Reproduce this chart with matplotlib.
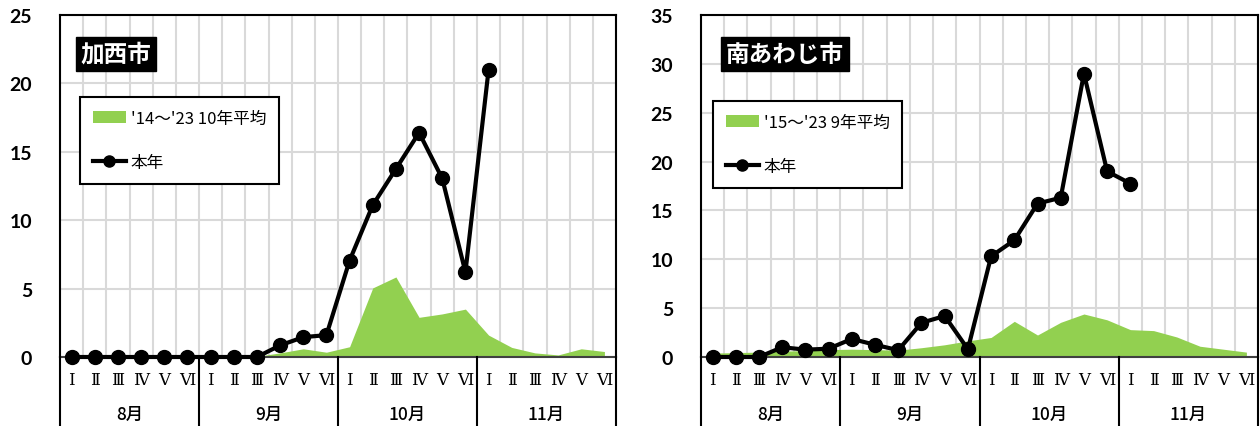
import numpy as np
import matplotlib
matplotlib.use("Agg")
import matplotlib.pyplot as plt
from matplotlib.patches import Patch
from matplotlib.lines import Line2D

plt.rcParams['font.family'] = ['Noto Sans CJK JP', 'DejaVu Sans']

# ---- data ----
weeks = ['Ⅰ', 'Ⅱ', 'Ⅲ', 'Ⅳ', 'Ⅴ', 'Ⅵ']
months = ['8月', '9月', '10月', '11月']

kasai_title = '加西市'
kasai_avg_label = "'14～'23 10年平均"
kasai_avg = [0.05, 0.05, 0.05, 0.05, 0.05, 0.05,
             0.05, 0.05, 0.05, 0.3, 0.6, 0.35,
             0.75, 5.05, 5.85, 2.9, 3.15, 3.5,
             1.6, 0.7, 0.3, 0.15, 0.6, 0.4]
kasai_now = [0, 0, 0, 0, 0, 0,
             0, 0, 0, 0.85, 1.45, 1.6,
             7.05, 11.1, 13.75, 16.4, 13.05, 6.2,
             21.0]
kasai_yticks = [0, 5, 10, 15, 20, 25]

awaji_title = '南あわじ市'
awaji_avg_label = "'15～'23 9年平均"
awaji_avg = [0.4, 0.45, 0.5, 0.6, 0.65, 0.75,
             0.8, 0.75, 0.7, 0.95, 1.25, 1.65,
             2.0, 3.65, 2.25, 3.55, 4.4, 3.8,
             2.8, 2.7, 2.05, 1.1, 0.8, 0.5]
awaji_now = [0, 0, 0, 1.0, 0.75, 0.85,
             1.85, 1.25, 0.7, 3.5, 4.2, 0.8,
             10.3, 11.95, 15.7, 16.3, 29.0, 19.0,
             17.75]
awaji_yticks = [0, 5, 10, 15, 20, 25, 30, 35]

now_label = '本年'
GREEN = '#92D050'

W, H = 1260, 427
fig = plt.figure(figsize=(W / 100, H / 100), dpi=100)


def px_axes(l, r, t, b):
    return fig.add_axes([l / W, 1 - b / H, (r - l) / W, (b - t) / H])


def draw(ax, avg, now, yticks, title, avg_label, title_xy, leg_anchor):
    n = len(avg)
    x = np.arange(n)
    ax.set_xlim(-0.5, n - 0.5)
    ax.set_ylim(yticks[0], yticks[-1])
    ax.set_xticks(np.arange(-0.5, n, 1))
    ax.set_xticklabels([])
    ax.set_yticks(yticks)
    ax.grid(True, color='#d9d9d9', lw=1.5, zorder=0)
    ax.set_axisbelow(True)
    ax.tick_params(axis='x', length=0)
    ax.tick_params(axis='y', length=0, pad=20, labelsize=14)
    for lab in ax.get_yticklabels():
        lab.set_fontweight('bold')
        lab.set_fontfamily(['Lato', 'DejaVu Sans'])
    for sp in ax.spines.values():
        sp.set_color('black')
        sp.set_linewidth(1.5)
    ax.spines['bottom'].set_color('#404040')

    ax.fill_between(x, avg, 0, color=GREEN, lw=0, zorder=2)
    xn = np.arange(len(now))
    ax.plot(xn, now, color='black', lw=3, marker='o', ms=10,
            clip_on=False, zorder=5)

    # category table below the axis
    tr = ax.get_xaxis_transform()
    for i in range(n):
        ax.text(i, -0.067, weeks[i % 6], transform=tr, ha='center', va='center',
                fontsize=12, family=['DejaVu Serif', 'Noto Sans CJK JP'])
    for m, name in enumerate(months):
        ax.text(m * 6 + 2.5, -0.167, name, transform=tr, ha='center', va='center',
                fontsize=12.5, fontweight='medium')
    for b in range(0, n + 1, 6):
        ax.plot([b - 0.5, b - 0.5], [0, -0.21], transform=tr, color='black',
                lw=1.5, clip_on=False, zorder=6)

    # title box
    ax.text(title_xy[0], title_xy[1], title, transform=ax.transAxes,
            ha='center', va='center', color='white', fontsize=17,
            fontweight='bold', zorder=7,
            bbox=dict(boxstyle='square,pad=0.2', facecolor='black',
                      edgecolor='black'))

    handles = [Patch(facecolor=GREEN, edgecolor='none'),
               Line2D([], [], color='black', lw=3, marker='o', ms=8)]
    leg = ax.legend(handles, [avg_label, now_label], loc='upper left',
                    bbox_to_anchor=leg_anchor, fontsize=12, frameon=True,
                    fancybox=False, framealpha=1, edgecolor='black',
                    borderpad=0.75, labelspacing=1.65, handlelength=2.0,
                    handletextpad=0.3, borderaxespad=0)
    leg.get_frame().set_linewidth(1.5)
    leg.set_zorder(8)


axL = px_axes(60, 616, 16, 358)
draw(axL, kasai_avg, kasai_now, kasai_yticks, kasai_title, kasai_avg_label,
     ((116 - 60) / 556, (358 - 55) / 342), ((80 - 60) / 556, (358 - 98) / 342))

axR = px_axes(701, 1258, 16, 358)
draw(axR, awaji_avg, awaji_now, awaji_yticks, awaji_title, awaji_avg_label,
     ((785 - 701) / 557, (358 - 55) / 342), ((713 - 701) / 557, (358 - 102) / 342))

fig.savefig('out.png', dpi=100)
